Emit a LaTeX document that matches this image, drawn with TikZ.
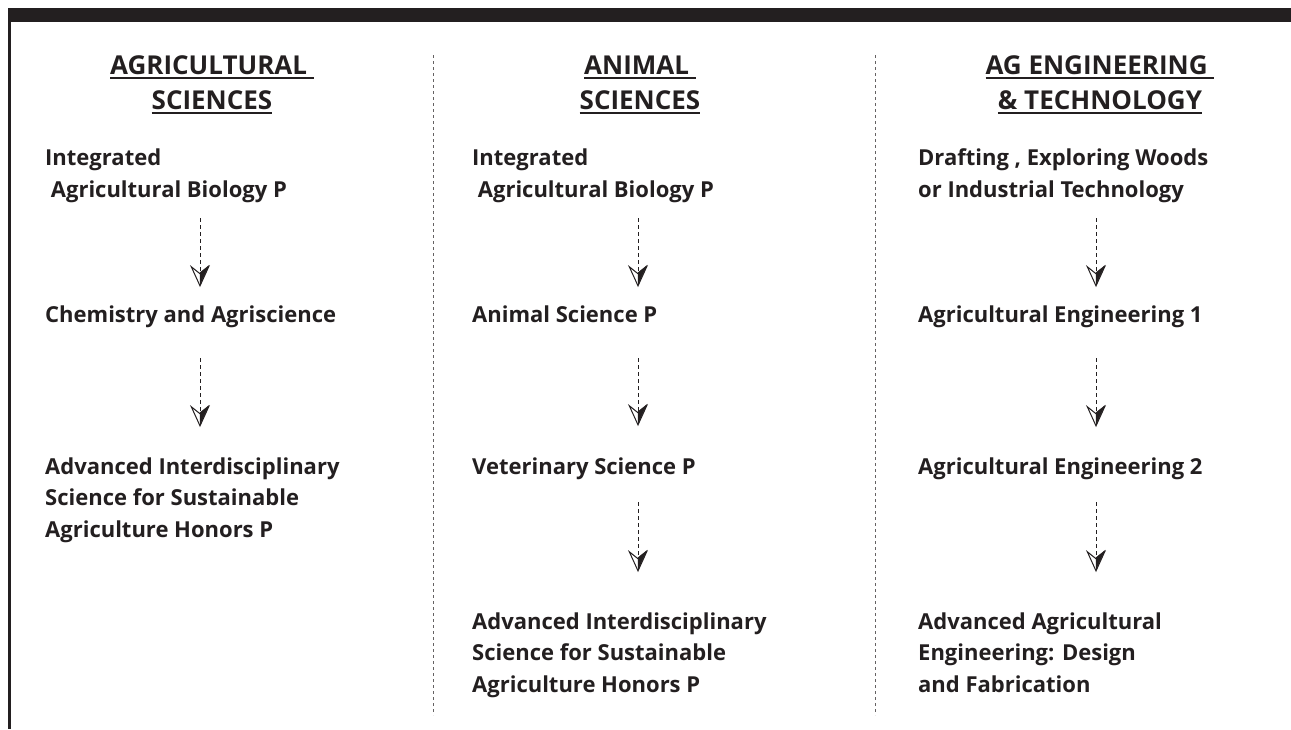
\documentclass[tikz,border=0pt]{standalone}
\usepackage{fontspec}
\setmainfont{Open Sans}
\usetikzlibrary{arrows.meta, positioning}
\definecolor{inkgray}{HTML}{231F20}
\newcommand{\hdline}[1]{\setbox0\hbox{#1}\rlap{\rule[-4.5pt]{\wd0}{2pt}}\box0}
\newcommand{\coursefont}{\fontsize{22}{31.5}\selectfont\bfseries}
\newcommand{\headfont}{\fontsize{26}{35}\selectfont\bfseries}
\tikzset{
    course/.style={anchor=base west, align=left, inner sep=0pt, font=\coursefont, text=inkgray},
    heading/.style={anchor=base, align=center, inner sep=0pt, font=\headfont, text=inkgray},
    flow/.style={draw=inkgray, line width=1pt, dash pattern=on 4pt off 3pt, shorten <=16pt, shorten >=18pt,
        -{Stealth[open, length=22pt, width=20pt, inset=8pt]},
        preaction={draw=white, solid, -{Stealth[harpoon, length=22pt, width=20pt, inset=8pt, color=inkgray, fill=inkgray]}}},
    divider/.style={draw=inkgray!70, line width=1pt, dash pattern=on 3pt off 3pt}
}

\begin{document}
\begin{tikzpicture}[x=1pt, y=-1pt]
    \useasboundingbox (0,0) rectangle (1291,729);

    % Frame
    \fill[inkgray] (8,8) rectangle (1291,22);
    \fill[inkgray] (7.5,22) rectangle (10.5,729);
    \draw[divider] (433,55) -- (433,715);
    \draw[divider] (875,55) -- (875,715);

    % Column headings
    \node[heading] (hag) at (212,109) {\hdline{AGRICULTURAL\ }\\\hdline{SCIENCES}};
    \node[heading] (han) at (640,109) {\hdline{ANIMAL\ }\\\hdline{SCIENCES}};
    \node[heading] (hen) at (1100,109) {\hdline{AG ENGINEERING\ }\\\hdline{\& TECHNOLOGY}};

    % Arrow columns
    \coordinate (c1) at (200,0);
    \coordinate (c2) at (638,0);
    \coordinate (c3) at (1096,0);

    % Agricultural sciences
    \node[course] (as1) at (45,197) {Integrated\\\ Agricultural Biology P};
    \node[course, below=125pt of as1.base west, anchor=base west] (as2) {Chemistry and Agriscience};
    \node[course, below=215pt of as2.base west, anchor=base west] (as3) {Advanced Interdisciplinary\\Science for Sustainable\\Agriculture Honors P};

    % Animal sciences
    \node[course] (an1) at (472,197) {Integrated\\\ Agricultural Biology P};
    \node[course, below=125pt of an1.base west, anchor=base west] (an2) {Animal Science P};
    \node[course, below=152pt of an2.base west, anchor=base west] (an3) {Veterinary Science P};
    \node[course, below=218pt of an3.base west, anchor=base west] (an4) {Advanced Interdisciplinary\\Science for Sustainable\\Agriculture Honors P};

    % Ag engineering & technology
    \node[course] (ae1) at (918,197) {Drafting , Exploring Woods\\or Industrial Technology};
    \node[course, below=125pt of ae1.base west, anchor=base west] (ae2) {Agricultural Engineering 1};
    \node[course, below=152pt of ae2.base west, anchor=base west] (ae3) {Agricultural Engineering 2};
    \node[course, below=218pt of ae3.base west, anchor=base west] (ae4) {Advanced Agricultural\\Engineering: Design\\and Fabrication};

    % Connections
    \draw[flow] (as1.south -| c1) -- (as2.north -| c1);
    \draw[flow, shorten <=31pt, shorten >=30pt] (as2.south -| c1) -- (as3.north -| c1);
    \draw[flow] (an1.south -| c2) -- (an2.north -| c2);
    \draw[flow, shorten <=36pt, shorten >=31pt] (an2.south -| c2) -- (an3.north -| c2);
    \draw[flow, shorten <=23pt, shorten >=40pt] (an3.south -| c2) -- (an4.north -| c2);
    \draw[flow] (ae1.south -| c3) -- (ae2.north -| c3);
    \draw[flow, shorten <=31pt, shorten >=30pt] (ae2.south -| c3) -- (ae3.north -| c3);
    \draw[flow, shorten <=23pt, shorten >=40pt] (ae3.south -| c3) -- (ae4.north -| c3);
\end{tikzpicture}
\end{document}
